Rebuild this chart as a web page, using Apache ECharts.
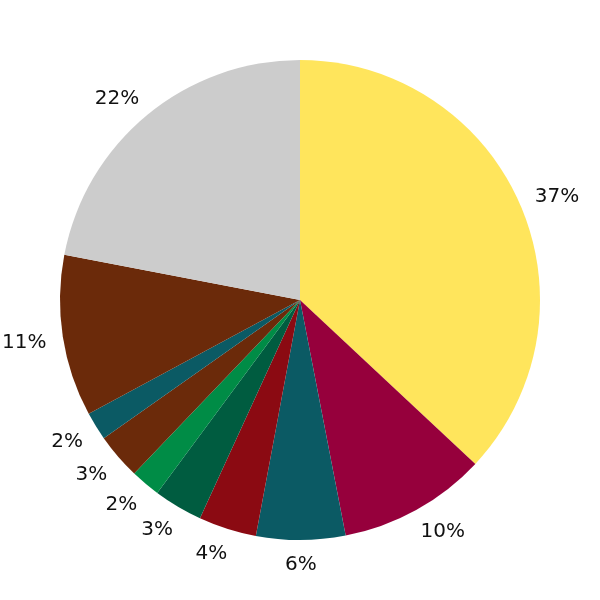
<!DOCTYPE html>
<html>
<head>
<meta charset="utf-8">
<script src="https://cdn.jsdelivr.net/npm/echarts@6/dist/echarts.min.js"></script>
<style>
  html, body { margin: 0; padding: 0; background: #fff; }
  #main { width: 600px; height: 600px; }
</style>
</head>
<body>
<div id="main"></div>
<script>
var myChart = echarts.init(document.getElementById('main'));

// slices, clockwise from 12 o'clock
var categories = ['A', 'B', 'C', 'D', 'E', 'F', 'G', 'H', 'I', 'J'];
var values = [37, 10, 6, 3.9, 3.3, 2, 3.1, 1.9, 10.9, 22];
var colors = ['#FFE55C', '#96003C', '#0B5A64', '#8B0A12', '#005C40',
              '#008C46', '#6B2A0A', '#0B5A64', '#6B2A0A', '#CCCCCC'];

var sliceData = categories.map(function (c, i) {
	return { name: c, value: values[i], itemStyle: { color: colors[i] } };
});

var option = {
	backgroundColor: '#fff',
	animation: false,
	series: [
		{
			type: 'pie',
			center: [300, 300],
			radius: [0, 240],
			startAngle: 90,
			clockwise: true,
			data: sliceData,
			label: { show: false },
			labelLine: { show: false },
			emphasis: { disabled: true }
		},
		{
			// invisible ring used only to place the percent labels
			type: 'pie',
			center: [300, 300],
			radius: [0, 521],
			startAngle: 90,
			clockwise: true,
			silent: true,
			data: sliceData.map(function (d) {
				return { name: d.name, value: d.value };
			}),
			itemStyle: { color: 'rgba(0,0,0,0)' },
			label: {
				show: true,
				position: 'inside',
				formatter: function (p) { return Math.round(p.percent) + '%'; },
				fontFamily: 'DejaVu Sans',
				fontSize: 20,
				color: '#111'
			},
			labelLine: { show: false },
			// push labels a bit further out sideways
			labelLayout: function (params) {
				var r = params.labelRect;
				var off = r.x + r.width / 2 - 300;
				var k = Math.min(1, Math.abs(off) / 60);
				var dx = (off < 0 ? -1 : 1) * (r.width * 0.5 - 7) * k;
				var dy = r.y > 300 && off < 0 ? 3 : 1.5;
				return { dx: dx, dy: dy };
			},
			emphasis: { disabled: true }
		}
	]
};

myChart.setOption(option);
</script>
</body>
</html>
